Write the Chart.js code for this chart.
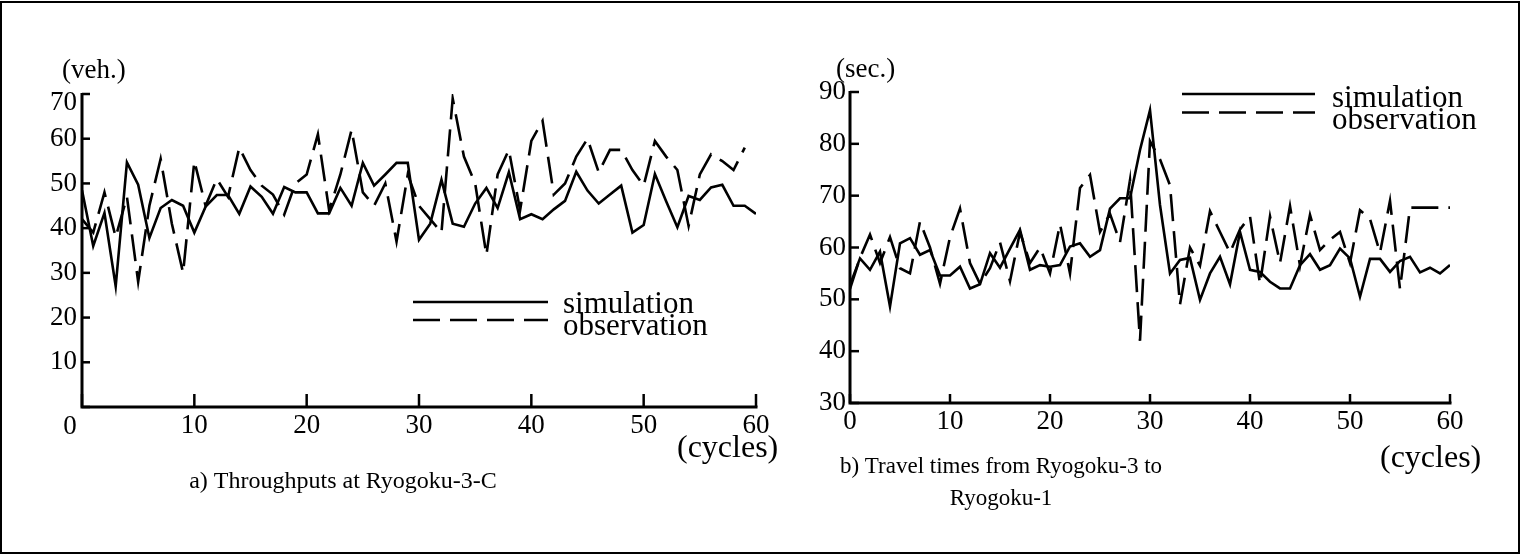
<!DOCTYPE html>
<html><head><meta charset="utf-8">
<script src="https://cdn.jsdelivr.net/npm/chart.js@4.4.1/dist/chart.umd.min.js"></script>
<style>
html,body{margin:0;padding:0;background:#fff;}
body{width:1521px;height:555px;position:relative;overflow:hidden;}
#frame{position:absolute;left:0;top:1px;width:1520px;height:553px;border:2px solid #000;box-sizing:border-box;}
canvas{position:absolute;top:0;}
#c1{left:0;} #c2{left:800px;}
</style></head><body>
<div id="frame"></div>
<canvas id="c1" width="800" height="555"></canvas>
<canvas id="c2" width="721" height="555"></canvas>
<script>
// ---- data ----
const cycles = [0,1,2,3,4,5,6,7,8,9,10,11,12,13,14,15,16,17,18,19,20,21,22,23,24,25,26,27,28,29,30,31,32,33,34,35,36,37,38,39,40,41,42,43,44,45,46,47,48,49,50,51,52,53,54,55,56,57,58,59,60];
const xTicks = [0,10,20,30,40,50,60];
const leftYTicks = [0,10,20,30,40,50,60,70];
const rightYTicks = [30,40,50,60,70,80,90];

const throughputSim = [48.5,36,43.4,27,54.7,49.7,37.8,44.5,46.3,45, 39,44.8,47.4,47.4,43.2,49.3,47,43.2,49.2,48, 48,43.3,43.3,49,45,54.6,49.5,52,54.6,54.6, 37.4,41,50.8,41,40.3,45.5,49,44.5,52.5,42, 43.1,42,44.2,46.1,52.6,48.4,45.5,47.5,49.5,39, 40.7,52.1,46,40.2,47.2,46.3,49.1,49.7,45,45,43.2];
const throughputObs = [42,39,48,38,47,28,45,55.5,41,30, 55,45,51,47,58,53,49.5,47.5,43,50, 52,61,44,52,62,48,45,50,37,52, 45,42,39,69,56,50,34,52,57.5,44, 59.5,64,47.5,50,56,60,52.5,57.5,57.5,53, 49.5,59.5,56,53,40.5,52,56.5,55,53,58,null];

const travelSim = [52.8,57.9,55.7,59.2,48.6,60.8,61.8,58.6,59.5,54.6, 54.6,56.3,52.1,52.9,58.9,56.1,59.8,63.4,55.7,56.6, 56.3,56.6,60.2,60.8,58.2,59.5,67.5,69.5,69.5,78.8, 86.5,68.2,55,57.6,58,49.9,55,58.2,52.9,63, 55.7,55.3,53.4,52.1,52.1,56.6,58.7,55.7,56.6,59.8, 57.9,50.5,57.8,57.8,55.3,57.4,58.2,55.2,56.1,55,56.6];
const travelObs = [52,58,62.5,57,62,56,55,65,60,53, 62,67.5,57,53,56,61,53.5,63,57,60, 55,64.5,55,71.5,74,63,66.5,61,73,42, 80.5,77,72,49,60,56.5,67,63,59,63.5, 66,53,66,57,68,56.5,66.3,59.5,61.5,63, 57,67.2,65.5,59,69,52,67.7,67.7,67.7,67.7,67.7];

const seriesNames = ['simulation','observation'];

// ---- helpers ----
const FONT = '"Liberation Serif", "Times New Roman", serif';
const pts = (vals) => cycles.map((c,i)=>({x:c, y:vals[i]}));

const axesPlugin = {
  id:'axesIn',
  afterDatasetsDraw(chart, args, o){
    const {ctx, chartArea:a, scales:{x,y}} = chart;
    ctx.save();
    ctx.strokeStyle='#000'; ctx.lineCap='butt';
    ctx.lineWidth=2.5;
    y.ticks.forEach(t=>{ const py=y.getPixelForValue(t.value); ctx.beginPath(); ctx.moveTo(a.left,py); ctx.lineTo(a.left+o.yLen,py); ctx.stroke(); });
    x.ticks.forEach(t=>{ const px=x.getPixelForValue(t.value); ctx.beginPath(); ctx.moveTo(px,a.bottom); ctx.lineTo(px,a.bottom-o.xLen); ctx.stroke(); });
    ctx.lineWidth=3;
    ctx.beginPath(); ctx.moveTo(a.left,a.top-1); ctx.lineTo(a.left,a.bottom); ctx.lineTo(a.right+1.5,a.bottom); ctx.stroke();
    ctx.restore();
  }
};
const legendPlugin = {
  id:'lineLegend',
  afterDraw(chart, args, o){
    const ctx=chart.ctx; ctx.save();
    chart.data.datasets.forEach((ds,i)=>{
      const it=o.items[i];
      ctx.strokeStyle=ds.borderColor; ctx.lineWidth=ds.borderWidth;
      ctx.setLineDash(ds.borderDash||[]);
      ctx.beginPath(); ctx.moveTo(o.x0,it.ly); ctx.lineTo(o.x1,it.ly); ctx.stroke();
      ctx.setLineDash([]);
      ctx.fillStyle='#000'; ctx.font=o.size+'px '+FONT; ctx.textAlign='left'; ctx.textBaseline='alphabetic';
      ctx.fillText(ds.label, o.tx, it.ty);
    });
    ctx.restore();
  }
};
const textPlugin = {
  id:'captions',
  afterDraw(chart, args, o){
    const ctx=chart.ctx; ctx.save(); ctx.fillStyle='#000'; ctx.textBaseline='alphabetic';
    o.items.forEach(it=>{ ctx.font=it.size+'px '+FONT; ctx.textAlign=it.align||'left'; ctx.fillText(it.text,it.x,it.y); });
    ctx.restore();
  }
};

function makeChart(id, sim, obs, cfg){
  return new Chart(document.getElementById(id), {
    type:'line',
    data:{datasets:[
      {label:seriesNames[0], data:pts(sim), borderColor:'#000', borderWidth:2.6, pointRadius:0, tension:0, fill:false, spanGaps:false},
      {label:seriesNames[1], data:pts(obs), borderColor:'#000', borderWidth:2.6, borderDash:[27,10], pointRadius:0, tension:0, fill:false, spanGaps:false}
    ]},
    options:{
      responsive:false, animation:false, devicePixelRatio:1,
      layout:{padding:cfg.padding},
      scales:{
        x:{type:'linear', min:0, max:60,
           afterBuildTicks:(s)=>{ s.ticks = xTicks.map(v=>({value:v})); },
           ticks:{font:{family:FONT,size:27}, color:'#000', padding:cfg.xPad, maxRotation:0,
                  callback:(v)=> (cfg.hideX.includes(v)) ? '' : String(v)},
           grid:{display:false, drawTicks:false}, border:{display:false},
           afterFit:(s)=>{ s.height = cfg.xH; }},
        y:{type:'linear', min:cfg.yMin, max:cfg.yMax,
           afterBuildTicks:(s)=>{ s.ticks = cfg.yTicks.map(v=>({value:v})); },
           ticks:{font:{family:FONT,size:27}, color:'#000', padding:cfg.yPad,
                  callback:(v)=> (cfg.hideY.includes(v)) ? '' : String(v)},
           grid:{display:false, drawTicks:false}, border:{display:false},
           afterFit:(s)=>{ s.width = cfg.yW; }}
      },
      plugins:{
        legend:{display:false}, tooltip:{enabled:false},
        axesIn:{yLen:cfg.yLen, xLen:cfg.xLen},
        lineLegend:cfg.legend,
        captions:{items:cfg.texts}
      }
    },
    plugins:[axesPlugin, legendPlugin, textPlugin]
  });
}

makeChart('c1', throughputSim, throughputObs, {
  padding:{top:94, right:44, left:0, bottom:0},
  xH:555-407, yW:82, xPad:3, yPad:5, yMin:0, yMax:70, yTicks:leftYTicks,
  hideX:[0], hideY:[0,70], yLen:8, xLen:13,
  legend:{x0:413, x1:548, tx:563, size:31, items:[{ly:302, ty:313},{ly:320, ty:335}]},
  texts:[
    {text:'(veh.)', x:62, y:78, size:27},
    {text:'70', x:77, y:110, size:27, align:'right'},
    {text:'0', x:70, y:434, size:27, align:'center'},
    {text:'(cycles)', x:677, y:457, size:32},
    {text:'a) Throughputs at Ryogoku-3-C', x:343, y:488, size:24, align:'center'}
  ]
});

makeChart('c2', travelSim, travelObs, {
  padding:{top:92, right:71, left:0, bottom:0},
  xH:555-403, yW:50, xPad:3, yPad:4, yMin:30, yMax:90, yTicks:rightYTicks,
  hideX:[], hideY:[], yLen:9, xLen:9,
  legend:{x0:382, x1:515, tx:532, size:31, items:[{ly:94, ty:107},{ly:112.5, ty:128.5}]},
  texts:[
    {text:'(sec.)', x:36, y:77, size:27},
    {text:'(cycles)', x:580, y:467, size:32},
    {text:'b) Travel times from Ryogoku-3 to', x:201, y:473, size:23, align:'center'},
    {text:'Ryogoku-1', x:201, y:505, size:23, align:'center'}
  ]
});
</script></body></html>
